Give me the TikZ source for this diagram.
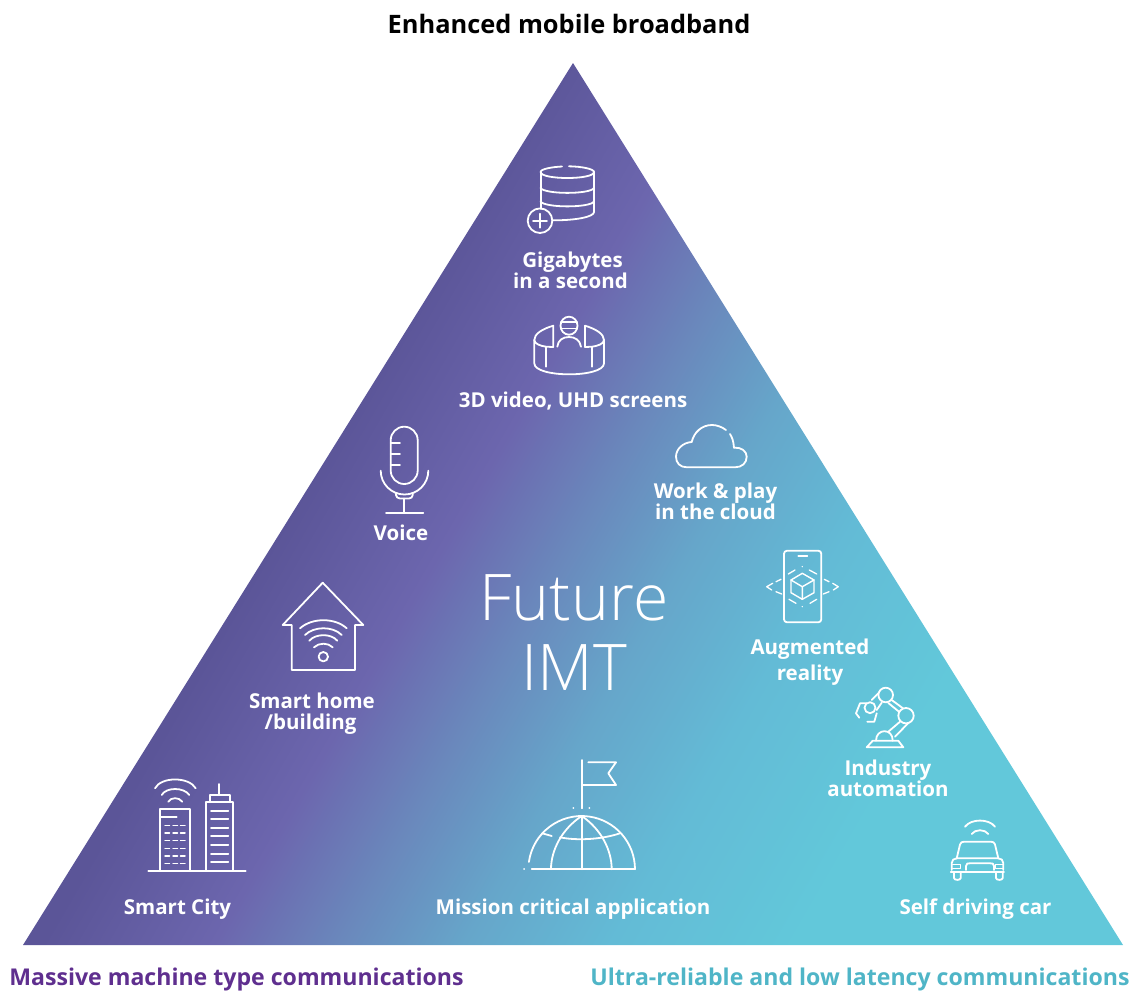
\documentclass[tikz,border=0pt]{standalone}
\usepackage{fontspec}
\setmainfont{Open Sans}
\newfontfamily\lightf{Open Sans Light}
\definecolor{c0}{HTML}{5B5598}
\definecolor{c1}{HTML}{6C66AE}
\definecolor{c2}{HTML}{6A88BC}
\definecolor{c3}{HTML}{66A6CA}
\definecolor{c4}{HTML}{63BBD6}
\definecolor{c5}{HTML}{62C8DA}
\definecolor{tpurple}{HTML}{5F2F8F}
\definecolor{tteal}{HTML}{4FB5C7}
\pgfdeclarehorizontalshading{imt}{100bp}{
 color(0bp)=(c0); color(42.5bp)=(c0); color(47.2bp)=(c1); color(50.6bp)=(c2); color(54bp)=(c3); color(58bp)=(c4); color(63bp)=(c5); color(100bp)=(c5)}
\tikzset{
 icon/.style={draw=white,line width=1.8pt,line join=round,line cap=round},
 lab/.style={text=white,align=center,font=\fontsize{20.5}{21}\selectfont\bfseries,inner sep=0pt},
 head/.style={align=center,font=\fontsize{25.4}{25}\selectfont\bfseries,inner sep=0pt},
 foot/.style={align=center,font=\fontsize{23.1}{25}\selectfont\bfseries,inner sep=0pt},
 big/.style={text=white,align=center,font=\fontsize{64.3}{70}\selectfont\lightf,inner sep=0pt}
}
\begin{document}
\begin{tikzpicture}[x=1pt,y=-1pt]
\useasboundingbox (0,0) rectangle (1135,991);
\coordinate (A) at (573,63);
\coordinate (B) at (23,945);
\coordinate (C) at (1123,945);
\begin{scope}
\clip (A) -- (B) -- (C) -- cycle;
\shade[shading=imt,shading angle=-30] (-227,-300) rectangle (1373,1300);
\end{scope}
% database
\draw[icon] (540.6,172) .. controls (540.6,169) and (552,167) .. (562,166.5) (569,166.3) .. controls (582,166.5) and (594,169) .. (594,172) .. controls (594,180) and (540.6,180) .. (540.6,172);
\draw[icon] (540.6,172) -- (540.6,209);
\draw[icon] (594,172) -- (594,212) .. controls (594,217) and (575,220.5) .. (552.5,220.3);
\draw[icon] (540.6,188) .. controls (545,194.5) and (590,194.5) .. (594,188);
\draw[icon] (540.6,201.5) .. controls (545,208) and (590,208) .. (594,201.5);
\draw[icon] (540,220.7) circle (12.3);
\draw[icon] (533,220.7) -- (547,220.7) (540,213.7) -- (540,227.7);
% VR
\draw[icon] (553.3,325.7) .. controls (542,329) and (534.3,334) .. (534.3,340) -- (534.3,363.3) .. controls (534.3,378) and (604,378) .. (604,363.3) -- (604,340) .. controls (604,334) and (596,329) .. (585,325.7);
\draw[icon] (534.3,340) .. controls (534.3,344) and (541,346) .. (546,346.7) -- (553.3,347) -- (553.3,325.7);
\draw[icon] (604,340) .. controls (604,344) and (597,346) .. (592.3,346.7) -- (585,347) -- (585,325.7);
\draw[icon] (546,346.7) -- (546,366.7) (592.3,346.7) -- (592.3,366.7);
\draw[icon] (569,325.7) ellipse (8.5 and 9);
\draw[icon] (561,322) -- (577,322) (561,328.5) -- (577,328.5);
\draw[icon] (557.3,346.7) .. controls (558,340) and (563,337) .. (569,337) .. controls (575,337) and (580,340) .. (581,346.7);
% mic
\draw[icon] (390.7,440.2) arc (180:360:13.5) -- (417.7,470.5) arc (0:180:13.5) -- cycle;
\draw[icon] (390.7,442.7) -- (400,442.7) (390.7,454) -- (400,454) (390.7,465.3) -- (400,465.3);
\draw[icon] (380.7,470.7) arc (180:0:23.8);
\draw[icon] (396,493.3) -- (396,495) .. controls (396,497) and (398,498.5) .. (400,498.5) -- (409,498.5) .. controls (411,498.5) and (412.7,497) .. (412.7,495) -- (412.7,493.3);
\draw[icon] (404.3,498.5) -- (404.3,512.7) (386,512.7) -- (423.3,512.7);
% house
\draw[icon] (291.7,625) -- (282.7,625) -- (322.7,582.7) -- (363.3,625) -- (355,625) -- (355,670) -- (291.7,670) -- cycle;
\draw[icon] (300,628.3) .. controls (312,617.5) and (335,617.5) .. (346.7,628.3);
\draw[icon] (305,635) .. controls (314,626) and (333,626) .. (341.7,635);
\draw[icon] (309.3,640.7) .. controls (316,633.3) and (331,633.3) .. (337.3,640.7);
\draw[icon] (314,647.3) .. controls (319,642.5) and (328,642.5) .. (332.7,647.3);
\draw[icon] (323.3,656.7) circle (4.7);
% cloud
\draw[icon] (734,447.7) .. controls (741,447) and (746.7,451) .. (746.7,456.7) .. controls (746.7,463) and (742,467.3) .. (735,467.3) -- (687,467.3) .. controls (680,467.3) and (676,463) .. (676,456.7) .. controls (676,449) and (683,442.5) .. (691.7,442) .. controls (694,432) and (702,425) .. (712,425) .. controls (717,425) and (722,427) .. (726,430);
\draw[icon] (730,434) .. controls (732,437) and (733.5,441) .. (734,447.7);
% phone
\draw[icon] (787,550.7) -- (818.3,550.7) arc (-90:0:3) -- (821.3,619.3) arc (0:90:3) -- (787,622.3) arc (90:180:3) -- (784,553.7) arc (180:270:3) -- cycle;
\draw[icon] (798.3,555.7) -- (807.3,555.7);
\draw[icon,line width=1.4pt] (802.3,573.3) -- (814,580) -- (814,592.7) -- (802.3,599.3) -- (791,592.7) -- (791,580) -- cycle;
\draw[icon,line width=1.4pt] (791,580) -- (802.3,586.7) -- (814,580) (802.3,586.7) -- (802.3,599.3);
\draw[icon,line width=1.3pt] (781,579.3) -- (776,581.7) (772.7,583.3) -- (766.7,586.7) -- (771.7,590) (776,591.7) -- (781.7,594);
\draw[icon,line width=1.3pt] (824.3,579.3) -- (829,581.7) (832.7,583.3) -- (838.3,586.7) -- (833.3,590) (829,591.7) -- (823.3,594);
\draw[icon,line width=1.3pt] (788.3,574) -- (795,570) (802.3,566.5) -- (802.3,566.7) (809.3,570) -- (816.7,574);
\draw[icon,line width=1.3pt] (789,599.3) -- (796,603.3) (802.3,606.5) -- (802.3,606.7) (810,603.3) -- (816.7,599.3);
% robot
\draw[icon] (866.7,747.3) -- (903.3,747.3) -- (898.3,740.7) -- (872.7,740.7) -- cycle;
\draw[icon] (876,740.7) .. controls (876,728) and (893,728) .. (892.7,740.7);
\draw[icon] (888.3,731.7) -- (900,721.7) (895,736.7) -- (908.3,723);
\draw[icon] (906,715.7) circle (7.7);
\draw[icon] (885.7,695) circle (7.3);
\draw[icon] (891.7,700) -- (903,708.3) (888.3,703) -- (899,711.7);
\draw[icon] (870,707.7) circle (5.5);
\draw[icon] (878.3,693.3) -- (871.7,700) (881.7,702.7) -- (876.7,710);
\draw[icon] (866.7,703.3) -- (860,703.3) -- (856,713.3) -- (859.3,717.7);
\draw[icon] (876.7,713.3) -- (874.3,721.7) -- (867.3,721.7);
% city
\draw[icon] (148.3,871) -- (245.7,871);
\draw[icon] (160,871) -- (160,809.3) -- (190,809.3) -- (190,871);
\draw[icon] (160,817.3) -- (176.7,817.3);
\draw[icon] (205.7,871) -- (205.7,802.3) -- (233.3,802.3) -- (233.3,871);
\draw[icon] (210,802.3) -- (210,795) -- (230,795) -- (230,802.3);
\draw[icon] (219.3,795) -- (219.3,784);
\foreach \yy in {810.7,819.3,827.7,836.3,845,853.7,862.3} \draw[icon] (211,\yy) -- (228.3,\yy);
\foreach \yy in {825.3,833,840.7,848.3,856,863.7} \draw[icon,line width=1.5pt] (165,\yy) -- (169.5,\yy) (173,\yy) -- (177.5,\yy) (180.5,\yy) -- (185,\yy);
\draw[icon] (155,788.3) .. controls (161,776.5) and (189,776.5) .. (195.7,788.3);
\draw[icon] (161.7,795) .. controls (166,787) and (184,787) .. (189.3,795);
\draw[icon] (168.3,801.7) .. controls (171,797) and (179,797) .. (182.3,801.7);
% globe
\draw[icon] (531.7,869.3) -- (635,869.3);
\draw[icon] (524,869.3) -- (524.1,869.3);
\draw[icon] (528.9,861.9) arc (-172:0:53.3);
\draw[icon] (581.7,816) -- (581.7,869.3);
\draw[icon] (551,869.3) .. controls (551,850) and (562,829) .. (581.7,816) .. controls (601,829) and (611.7,850) .. (611.7,869.3);
\draw[icon] (560,837.3) .. controls (575,840.5) and (600,840) .. (620,833.3);
\draw[icon] (542.3,833.3) -- (551.7,836);
\draw[icon] (581.7,808.3) -- (581.7,760);
\draw[icon] (588.3,762.3) -- (616,762.3) -- (608.3,773.3) -- (616,785) -- (582.7,785);
\draw[icon] (573.3,808.3) -- (573.4,808.3) (589.3,808.3) -- (589.4,808.3);
% car
\draw[icon] (965,826.7) .. controls (971,818.5) and (989,818.5) .. (995,826.7);
\draw[icon] (971.7,834) .. controls (975,829) and (985,829) .. (988.3,834);
\draw[icon] (956.7,858.3) -- (960,844.5) .. controls (960.5,842.5) and (962,841.7) .. (964,841.7) -- (991,841.7) .. controls (993,841.7) and (994.5,842.5) .. (995,844.5) -- (998.3,858.3);
\draw[icon] (951.7,870) -- (951.7,863) .. controls (951.7,860) and (954,858.3) .. (957,858.3) -- (998,858.3) .. controls (1001,858.3) and (1003.3,860) .. (1003.3,863) -- (1003.3,870);
\draw[icon] (950.7,872.3) -- (1004,872.3);
\draw[icon] (954,873) -- (954,878) .. controls (954,880.5) and (960.7,880.5) .. (960.7,878) -- (960.7,873);
\draw[icon] (996,873) -- (996,878) .. controls (996,880.5) and (1002.7,880.5) .. (1002.7,878) -- (1002.7,873);
\draw[icon,line width=1.3pt] (952.7,864.3) -- (960.7,864.3) -- (960.7,868.3) -- (952.7,868.3);
\draw[icon,line width=1.3pt] (1003.5,864.3) -- (995.7,864.3) -- (995.7,868.3) -- (1003.5,868.3);
\draw[icon] (966,870) -- (966,866) .. controls (966,863) and (968,863.3) .. (970,863.3) -- (990,863.3) .. controls (992,863.3) and (994,863) .. (994,866) -- (994,870);
% labels
\node[head] (h1) at (569,24) {Enhanced mobile broadband};
\node[foot,text=tpurple] (h2) at (236.5,979) {Massive machine type communications};
\node[foot,text=tteal] (h3) at (860,979) {Ultra-reliable and low latency communications};
\node[big] (f) at (574,633) {Future\\IMT};
\node[lab] (l1) at (572.5,270) {Gigabytes\\in a second\kern4pt};
\node[lab] (l2) at (573,401.5) {3D video, UHD screens};
\node[lab] (l3) at (401,532.5) {Voice};
\node[lab] (l4) at (715.5,501) {Work \& play\\in the cloud};
\node[lab] (l5) at (810,662) {Augmented\\[5pt]reality};
\node[lab] (l6) at (312,714) {Smart home\\/building\kern3pt};
\node[lab] (l7) at (888,778) {Industry\\automation};
\node[lab] (l8) at (177.5,909) {Smart City};
\node[lab] (l9) at (573,909) {Mission critical application};
\node[lab] (l10) at (975.5,909) {Self driving car};
\end{tikzpicture}
\end{document}
